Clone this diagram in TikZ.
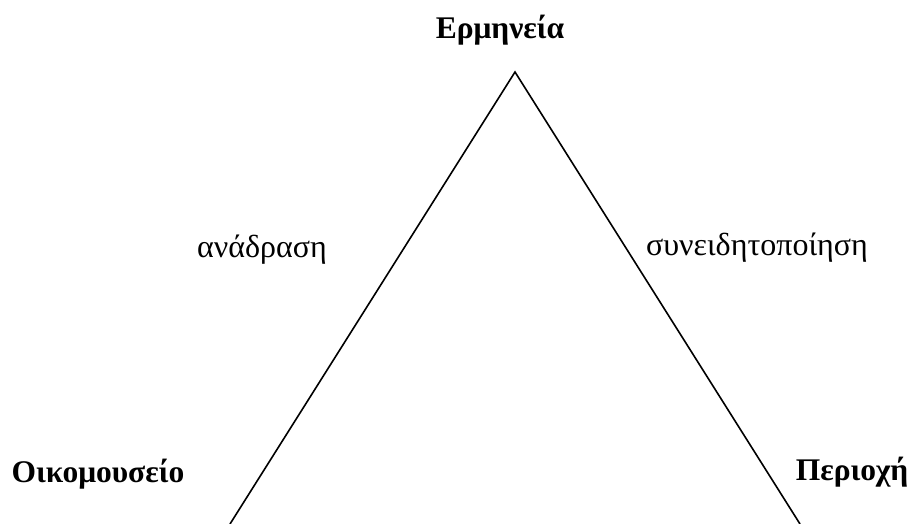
\documentclass[tikz,border=0pt]{standalone}
\usepackage{fontspec}
\setmainfont{Liberation Serif}
\usepackage{tikz}
\usetikzlibrary{positioning}
\tikzset{
    corner/.style={font=\bfseries\fontsize{31.5}{36}\selectfont, anchor=base},
    side/.style={font=\fontsize{32}{36}\selectfont, anchor=base},
    edge/.style={line width=1.6pt, line cap=round}
}

\begin{document}
\begin{tikzpicture}[x=1pt,y=-1pt]
    \useasboundingbox (0,0) rectangle (913,524);
    % --- triangle (base cut off by the frame) ---
    \coordinate (apex) at (515,72);
    \coordinate (lbase) at (230,524);
    \coordinate (rbase) at (800,524);
    \draw[edge] (lbase) -- (apex) -- (rbase);
    % --- corner labels ---
    \node[corner] (top) at (500,39) {Ερμηνεία};
    \node[corner] (left) at (98,482) {Οικομουσείο};
    \node[corner] (right) at (852,480) {Περιοχή};
    % --- side labels ---
    \node[side] (lside) at (262,257) {ανάδραση};
    \node[side] (rside) at (757,255) {συνειδητοποίηση};
\end{tikzpicture}
\end{document}
